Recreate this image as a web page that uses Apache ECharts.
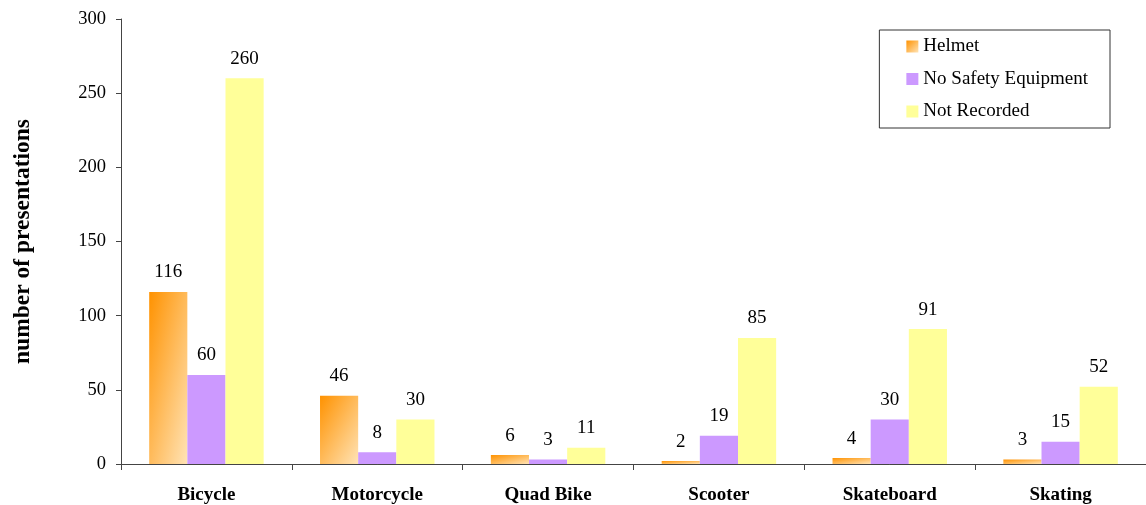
<!DOCTYPE html>
<html><head><meta charset="utf-8">
<script src="https://cdn.jsdelivr.net/npm/echarts@6/dist/echarts.min.js"></script>
<style>html,body{margin:0;padding:0;background:#fff}#c{width:1146px;height:505px}</style>
</head><body><div id="c"></div>
<script>
const categories = ['Bicycle','Motorcycle','Quad Bike','Scooter','Skateboard','Skating'];
const helmet = [116, 46, 6, 2, 4, 3];
const noSafety = [60, 8, 3, 19, 30, 15];
const notRecorded = [260, 30, 11, 85, 91, 52];
const yTicks = [0, 50, 100, 150, 200, 250, 300];

const font = '"Liberation Serif", "Times New Roman", serif';
const GRID_H = 445, BAR_W = 38.3;
function helmetGrad(v) {
  // diagonal gradient whose iso-lines follow the box's anti-diagonal (Excel-like)
  const h = Math.max(v * GRID_H / yTicks[yTicks.length-1], 1), w = BAR_W;
  const d = h*h + w*w;
  return new echarts.graphic.LinearGradient(0, 0, 2*h*h/d, 2*w*w/d,
    [{offset:0, color:'#FF9200'}, {offset:1, color:'#FFE3B5'}]);
}
const chart = echarts.init(document.getElementById('c'));
const label = {show:true, position:'top', distance:10, fontFamily:font, fontSize:19, color:'#000'};
chart.setOption({
  animation:false,
  grid:{left:121, right:-7, top:19, bottom:41, containLabel:false},
  legend:{
    right:36, top:30, orient:'vertical', itemWidth:12, itemHeight:12, itemGap:13.5,
    padding:[7,22,7,27], borderColor:'#333', borderWidth:1,
    textStyle:{fontFamily:font, fontSize:19, color:'#000'},
    data:[{name:'Helmet', icon:'rect'},{name:'No Safety Equipment', icon:'rect'},{name:'Not Recorded', icon:'rect'}]
  },
  xAxis:{type:'category', data:categories,
    axisLine:{lineStyle:{color:'#444'}},
    axisTick:{show:true, length:6, lineStyle:{color:'#444'}},
    axisLabel:{fontFamily:font, fontSize:19, fontWeight:'bold', color:'#000', margin:22}},
  yAxis:{type:'value', min:yTicks[0], max:yTicks[yTicks.length-1], interval:50,
    name:'number of presentations', nameLocation:'middle', nameGap:86,
    nameTextStyle:{fontFamily:font, fontSize:23.5, fontWeight:'bold', color:'#000'},
    splitLine:{show:false},
    axisLine:{show:true, lineStyle:{color:'#444'}},
    axisTick:{show:true, length:5, lineStyle:{color:'#444'}},
    axisLabel:{fontFamily:font, fontSize:18.5, color:'#000', margin:15}},
  series:[
    {name:'Helmet', type:'bar', barGap:'0%', barCategoryGap:'33%', label,
     data:helmet.map(v => ({value:v, itemStyle:{color:helmetGrad(v)}})),
     itemStyle:{color:new echarts.graphic.LinearGradient(0,0,1,1,[{offset:0,color:'#FF9200'},{offset:1,color:'#FFE3B5'}])}},
    {name:'No Safety Equipment', type:'bar', data:noSafety, label, itemStyle:{color:'#CC99FF'}},
    {name:'Not Recorded', type:'bar', data:notRecorded, label, itemStyle:{color:'#FFFF99'}}
  ]
});
</script></body></html>
